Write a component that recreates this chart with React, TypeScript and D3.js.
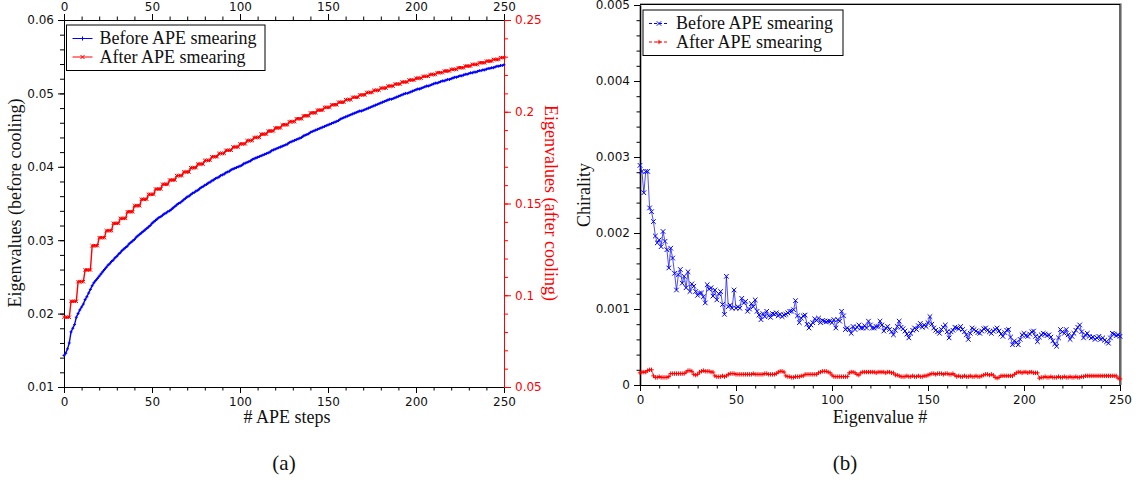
import React, { useEffect, useRef } from "react"
import * as d3 from "d3"

// x categories: APE step / eigenvalue index
const steps = d3.range(0, 251)

// (a) lowest eigenvalue vs. APE steps, before cooling (left axis)
const eigBefore = [
  0.0143, 0.0146, 0.0152, 0.016, 0.0175, 0.018, 0.0185, 0.0195, 0.02, 0.0205,
  0.0209, 0.0213, 0.0219, 0.0223, 0.0228, 0.0233, 0.0238, 0.0242, 0.0245, 0.0248,
  0.0251, 0.0254, 0.0257, 0.026, 0.0263, 0.0266, 0.0268, 0.0271, 0.0273, 0.0276,
  0.0278, 0.0281, 0.0283, 0.0286, 0.0288, 0.029, 0.0292, 0.0295, 0.0297, 0.0299,
  0.0301, 0.0304, 0.0306, 0.0308, 0.031, 0.0312, 0.0314, 0.0316, 0.0318, 0.032,
  0.0323, 0.0325, 0.0327, 0.0329, 0.0331, 0.0332, 0.0334, 0.0336, 0.0337, 0.0339,
  0.034, 0.0342, 0.0344, 0.0346, 0.0348, 0.035, 0.0351, 0.0353, 0.0355, 0.0357,
  0.0359, 0.036, 0.0362, 0.0364, 0.0365, 0.0367, 0.0368, 0.037, 0.0372, 0.0373,
  0.0375, 0.0376, 0.0378, 0.0379, 0.0381, 0.0382, 0.0384, 0.0385, 0.0386, 0.0388,
  0.0389, 0.039, 0.0392, 0.0393, 0.0394, 0.0396, 0.0397, 0.0398, 0.0399, 0.04,
  0.0401, 0.0402, 0.0404, 0.0405, 0.0406, 0.0407, 0.0408, 0.041, 0.0411, 0.0412,
  0.0413, 0.0414, 0.0415, 0.0416, 0.0417, 0.0418, 0.0419, 0.042, 0.0422, 0.0423,
  0.0424, 0.0425, 0.0426, 0.0427, 0.0428, 0.0429, 0.043, 0.0431, 0.0433, 0.0434,
  0.0435, 0.0436, 0.0437, 0.0438, 0.0439, 0.044, 0.0442, 0.0443, 0.0444, 0.0445,
  0.0447, 0.0448, 0.0449, 0.045, 0.0451, 0.0452, 0.0453, 0.0454, 0.0455, 0.0456,
  0.0457, 0.0458, 0.0459, 0.046, 0.0461, 0.0462, 0.0463, 0.0465, 0.0466, 0.0467,
  0.0468, 0.0469, 0.047, 0.0471, 0.0472, 0.0473, 0.0474, 0.0475, 0.0476, 0.0476,
  0.0477, 0.0478, 0.0479, 0.048, 0.0481, 0.0482, 0.0483, 0.0484, 0.0485, 0.0486,
  0.0487, 0.0488, 0.0489, 0.049, 0.0491, 0.0492, 0.0492, 0.0493, 0.0494, 0.0495,
  0.0496, 0.0497, 0.0498, 0.0499, 0.05, 0.05, 0.0501, 0.0502, 0.0503, 0.0504,
  0.0505, 0.0506, 0.0506, 0.0507, 0.0508, 0.0509, 0.051, 0.051, 0.0511, 0.0512,
  0.0513, 0.0514, 0.0514, 0.0515, 0.0516, 0.0517, 0.0517, 0.0518, 0.0519, 0.0519,
  0.052, 0.0521, 0.0522, 0.0522, 0.0523, 0.0524, 0.0524, 0.0525, 0.0526, 0.0526,
  0.0527, 0.0528, 0.0528, 0.0529, 0.0529, 0.053, 0.0531, 0.0531, 0.0532, 0.0532,
  0.0533, 0.0534, 0.0534, 0.0535, 0.0535, 0.0536, 0.0537, 0.0537, 0.0538, 0.0538,
  0.0539,
]

// (a) after cooling (right axis), fourfold degenerate
const eigAfter = [
  0.088, 0.088, 0.088, 0.088, 0.0967, 0.0967, 0.0967, 0.0967,
  0.1074, 0.1074, 0.1074, 0.1074, 0.1138, 0.1138, 0.1138, 0.1138,
  0.127, 0.127, 0.127, 0.127, 0.1314, 0.1314, 0.1314, 0.1314,
  0.1352, 0.1352, 0.1352, 0.1352, 0.1392, 0.1392, 0.1392, 0.1392,
  0.1419, 0.1419, 0.1419, 0.1419, 0.1455, 0.1455, 0.1455, 0.1455,
  0.1488, 0.1488, 0.1488, 0.1488, 0.1523, 0.1523, 0.1523, 0.1523,
  0.155, 0.155, 0.155, 0.155, 0.1579, 0.1579, 0.1579, 0.1579,
  0.1605, 0.1605, 0.1605, 0.1605, 0.1628, 0.1628, 0.1628, 0.1628,
  0.1652, 0.1652, 0.1652, 0.1652, 0.1672, 0.1672, 0.1672, 0.1672,
  0.1695, 0.1695, 0.1695, 0.1695, 0.1715, 0.1715, 0.1715, 0.1715,
  0.1735, 0.1735, 0.1735, 0.1735, 0.1755, 0.1755, 0.1755, 0.1755,
  0.1773, 0.1773, 0.1773, 0.1773, 0.179, 0.179, 0.179, 0.179,
  0.1808, 0.1808, 0.1808, 0.1808, 0.1825, 0.1825, 0.1825, 0.1825,
  0.1843, 0.1843, 0.1843, 0.1843, 0.186, 0.186, 0.186, 0.186,
  0.1878, 0.1878, 0.1878, 0.1878, 0.1895, 0.1895, 0.1895, 0.1895,
  0.1912, 0.1912, 0.1912, 0.1912, 0.1929, 0.1929, 0.1929, 0.1929,
  0.1946, 0.1946, 0.1946, 0.1946, 0.1962, 0.1962, 0.1962, 0.1962,
  0.1978, 0.1978, 0.1978, 0.1978, 0.1994, 0.1994, 0.1994, 0.1994,
  0.2009, 0.2009, 0.2009, 0.2009, 0.2024, 0.2024, 0.2024, 0.2024,
  0.2038, 0.2038, 0.2038, 0.2038, 0.2052, 0.2052, 0.2052, 0.2052,
  0.2066, 0.2066, 0.2066, 0.2066, 0.2079, 0.2079, 0.2079, 0.2079,
  0.2092, 0.2092, 0.2092, 0.2092, 0.2105, 0.2105, 0.2105, 0.2105,
  0.2117, 0.2117, 0.2117, 0.2117, 0.2129, 0.2129, 0.2129, 0.2129,
  0.214, 0.214, 0.214, 0.214, 0.2151, 0.2151, 0.2151, 0.2151,
  0.2162, 0.2162, 0.2162, 0.2162, 0.2173, 0.2173, 0.2173, 0.2173,
  0.2183, 0.2183, 0.2183, 0.2183, 0.2193, 0.2193, 0.2193, 0.2193,
  0.2203, 0.2203, 0.2203, 0.2203, 0.2213, 0.2213, 0.2213, 0.2213,
  0.2222, 0.2222, 0.2222, 0.2222, 0.2231, 0.2231, 0.2231, 0.2231,
  0.224, 0.224, 0.224, 0.224, 0.2249, 0.2249, 0.2249, 0.2249,
  0.2258, 0.2258, 0.2258, 0.2258, 0.2267, 0.2267, 0.2267, 0.2267,
  0.2276, 0.2276, 0.2276, 0.2276, 0.2285, 0.2285, 0.2285, 0.2285,
  0.2295, 0.2295, 0.2295,
]

// (b) chirality per eigenvalue
const chiBefore = [
  0.00289, 0.00281, 0.00253, 0.00281, 0.00281, 0.00233, 0.00228, 0.00215, 0.00196, 0.00187,
  0.00191, 0.00182, 0.00202, 0.00189, 0.00178, 0.00154, 0.0018, 0.00167, 0.00147, 0.00125,
  0.00145, 0.00152, 0.00134, 0.00143, 0.00128, 0.00149, 0.00123, 0.00133, 0.0013, 0.00123,
  0.00118, 0.00121, 0.00121, 0.00116, 0.00108, 0.00132, 0.00126, 0.00128, 0.00117, 0.00125,
  0.00112, 0.0012, 0.00123, 0.00106, 0.00093, 0.00143, 0.00103, 0.00105, 0.00101, 0.00125,
  0.00101, 0.00103, 0.00101, 0.00114, 0.00108, 0.0011, 0.00097, 0.001, 0.00107, 0.00103,
  0.00112, 0.00097, 0.00092, 0.00086, 0.00094, 0.0009, 0.00097, 0.00091, 0.00089, 0.00094,
  0.00093, 0.00095, 0.00091, 0.00093, 0.0009, 0.00092, 0.00093, 0.00095, 0.00097, 0.00097,
  0.00099, 0.00111, 0.00091, 0.00082, 0.00088, 0.00091, 0.00092, 0.0008, 0.00075, 0.00079,
  0.00082, 0.00087, 0.00085, 0.00088, 0.00082, 0.00085, 0.00084, 0.00083, 0.00084, 0.00084,
  0.00082, 0.00086, 0.00075, 0.00086, 0.00084, 0.00097, 0.00091, 0.00073, 0.00075, 0.00073,
  0.00068, 0.00077, 0.00073, 0.00076, 0.00079, 0.00075, 0.00075, 0.00078, 0.00075, 0.00084,
  0.00079, 0.00075, 0.00075, 0.00077, 0.00077, 0.00084, 0.00079, 0.00071, 0.00075, 0.00077,
  0.00073, 0.0007, 0.00066, 0.00072, 0.00077, 0.00084, 0.00076, 0.00074, 0.00071, 0.00067,
  0.00062, 0.00068, 0.00072, 0.00075, 0.00073, 0.00078, 0.00081, 0.00076, 0.00079, 0.00077,
  0.00082, 0.0009, 0.0008, 0.00075, 0.00072, 0.0007, 0.00068, 0.00073, 0.00076, 0.00079,
  0.0007, 0.00062, 0.0007, 0.00072, 0.00076, 0.00075, 0.00074, 0.00077, 0.00073, 0.0007,
  0.00066, 0.0006, 0.00068, 0.00075, 0.00073, 0.00071, 0.00069, 0.00068, 0.00071, 0.00074,
  0.00075, 0.00072, 0.0007, 0.00068, 0.00071, 0.00073, 0.00075, 0.00071, 0.00067, 0.00064,
  0.00069, 0.00072, 0.00073, 0.00063, 0.00053, 0.00058, 0.00056, 0.00053, 0.0006, 0.00066,
  0.00068, 0.00065, 0.00064, 0.00067, 0.0007, 0.00071, 0.00064, 0.00057, 0.00063, 0.00066,
  0.00068, 0.00067, 0.00065, 0.00066, 0.00063, 0.00058, 0.00054, 0.00051, 0.00062, 0.00073,
  0.0007, 0.00068, 0.00073, 0.00066, 0.0006, 0.00064, 0.00068, 0.00072, 0.00076, 0.00079,
  0.0007, 0.00062, 0.00066, 0.00068, 0.00064, 0.00062, 0.00063, 0.0006, 0.00062, 0.00064,
  0.0006, 0.00062, 0.00059, 0.00057, 0.00055, 0.00062, 0.00068, 0.00067, 0.00065, 0.00066,
  0.00064,
]

const chiAfter = [
  0.00016, 0.00017, 0.00017, 0.00017, 0.00019, 0.0002, 0.0002, 0.00012, 0.0001, 0.0001,
  0.00011, 0.0001, 0.0001, 0.0001, 0.0001, 0.00011, 0.00015, 0.00015, 0.00015, 0.00015,
  0.00015, 0.00015, 0.00015, 0.00015, 0.00017, 0.00019, 0.00019, 0.00018, 0.00014, 0.00013,
  0.00014, 0.00017, 0.00018, 0.00019, 0.00018, 0.00018, 0.00018, 0.00017, 0.00017, 0.00012,
  0.00011, 0.00011, 0.00011, 0.00012, 0.00011, 0.00012, 0.00014, 0.00015, 0.00015, 0.00015,
  0.00014, 0.00014, 0.00014, 0.00014, 0.00014, 0.00014, 0.00014, 0.00014, 0.00014, 0.00015,
  0.00014, 0.00014, 0.00014, 0.00014, 0.00014, 0.00015, 0.00015, 0.00014, 0.00014, 0.00014,
  0.00014, 0.00015, 0.00017, 0.00018, 0.00018, 0.00017, 0.00012, 0.00011, 0.00011, 0.0001,
  0.0001, 0.00011, 0.00011, 0.00011, 0.00012, 0.00012, 0.00014, 0.00014, 0.00014, 0.00014,
  0.00014, 0.00014, 0.00014, 0.00016, 0.00017, 0.00018, 0.00018, 0.00018, 0.00017, 0.00016,
  0.00013, 0.00011, 0.00011, 0.00011, 0.00011, 0.00011, 0.00011, 0.00011, 0.00011, 0.00016,
  0.00017, 0.00017, 0.00016, 0.00014, 0.00013, 0.00016, 0.00017, 0.00017, 0.00017, 0.00017,
  0.00017, 0.00017, 0.00017, 0.00016, 0.00017, 0.00017, 0.00017, 0.00017, 0.00016, 0.00017,
  0.00017, 0.00016, 0.00016, 0.00013, 0.00013, 0.00012, 0.00011, 0.00011, 0.00011, 0.00012,
  0.00011, 0.00011, 0.00012, 0.00011, 0.00011, 0.00012, 0.00011, 0.00011, 0.00012, 0.00012,
  0.00013, 0.00014, 0.00015, 0.00015, 0.00014, 0.00015, 0.00015, 0.00015, 0.00014, 0.00015,
  0.00015, 0.00014, 0.00014, 0.00015, 0.00013, 0.00011, 0.00012, 0.00011, 0.00011, 0.00012,
  0.00011, 0.00011, 0.00012, 0.00011, 0.00011, 0.00012, 0.00011, 0.00011, 0.00012, 0.00013,
  0.00014, 0.00014, 0.00013, 0.00014, 0.00013, 0.0001, 0.00009, 0.0001, 0.00012, 0.00012,
  0.00012, 0.00012, 0.00012, 0.00012, 0.00012, 0.00014, 0.00016, 0.00017, 0.00017, 0.00016,
  0.00017, 0.00017, 0.00016, 0.00017, 0.00017, 0.00016, 0.00016, 0.00016, 0.00009, 0.0001,
  0.0001, 0.00011, 0.0001, 0.0001, 0.00011, 0.0001, 0.0001, 0.0001, 0.00011, 0.0001,
  0.0001, 0.00011, 0.0001, 0.0001, 0.00011, 0.0001, 0.0001, 0.00011, 0.0001, 0.0001,
  0.00011, 0.00011, 0.00012, 0.00012, 0.00012, 0.00012, 0.00012, 0.00012, 0.00012, 0.00012,
  0.00012, 0.00012, 0.00012, 0.00012, 0.00012, 0.00012, 0.00012, 0.00012, 0.00012, 0.00009,
  0.00008,
]

const xTicks = [0, 50, 100, 150, 200, 250]
const leftTicksA = [0.01, 0.02, 0.03, 0.04, 0.05, 0.06]
const rightTicksA = [0.05, 0.1, 0.15, 0.2, 0.25]
const yTicksB = [0, 0.001, 0.002, 0.003, 0.004, 0.005]

const BLUE = "#0000ff"
const RED = "#ff0000"
const SERIF = "Liberation Serif"
const SANS = "DejaVu Sans"

const plus = (x: number, y: number, s: number) => `M${x - s},${y}H${x + s}M${x},${y - s}V${y + s}`
const cross = (x: number, y: number, s: number) =>
  `M${x - s},${y - s}L${x + s},${y + s}M${x - s},${y + s}L${x + s},${y - s}`

function axisStyle(g: any, color = "#000") {
  g.attr("color", color).attr("font-family", SANS).attr("font-size", 12)
  g.selectAll("text").attr("fill", color === "#000" ? "#111" : color)
}

function series(g: any, xs: any, ys: any, vals: number[], color: string, width: number, marker: any, ms: number) {
  const line = d3
    .line<number>()
    .x((_, i) => xs(steps[i]))
    .y(d => ys(d))
  g.append("path")
    .attr("d", line(vals))
    .attr("fill", "none")
    .attr("stroke", color)
    .attr("stroke-width", width)
  g.append("path")
    .attr("d", vals.map((v, i) => marker(xs(steps[i]), ys(v), ms)).join(""))
    .attr("fill", "none")
    .attr("stroke", color)
    .attr("stroke-width", 1)
}

function legend(g: any, x: number, y: number, w: number, h: number, items: any[]) {
  g.append("rect").attr("x", x).attr("y", y).attr("width", w).attr("height", h)
    .attr("fill", "#fff").attr("stroke", "#000").attr("stroke-width", 1)
  items.forEach((it, i) => {
    const cy = y + 13.5 + i * 18.5
    g.append("line").attr("x1", x + 6).attr("x2", x + 26).attr("y1", cy).attr("y2", cy)
      .attr("stroke", it.color).attr("stroke-width", 1).attr("stroke-dasharray", it.dash || null)
    g.append("path").attr("d", it.marker(x + 16, cy, it.ms)).attr("stroke", it.color).attr("fill", "none")
    g.append("text").attr("x", x + 33).attr("y", cy + 5.5).attr("font-family", SERIF).attr("font-size", 18)
      .attr("fill", "#111").text(it.label)
  })
}

function drawLeft(svg: any) {
  const x = d3.scaleLinear().domain([0, 250]).range([64, 504])
  const yL = d3.scaleLinear().domain([0.01, 0.06]).range([387, 20])
  const yR = d3.scaleLinear().domain([0.05, 0.25]).range([387, 20])
  const minorX = d3.range(0, 251, 10)

  const bottom = svg.append("g").attr("transform", "translate(0,387)")
  bottom.append("g").call(d3.axisBottom(x).tickValues(minorX).tickSize(3.5).tickSizeOuter(0).tickFormat(() => ""))
  bottom.append("g").call(d3.axisBottom(x).tickValues(xTicks).tickSize(6).tickSizeOuter(0).tickPadding(4)).call(axisStyle)

  const top = svg.append("g").attr("transform", "translate(0,20)")
  top.append("g").call(d3.axisTop(x).tickValues(minorX).tickSize(3.5).tickSizeOuter(0).tickFormat(() => ""))
  top.append("g").call(d3.axisTop(x).tickValues(xTicks).tickSize(6).tickSizeOuter(0).tickPadding(3)).call(axisStyle)

  const left = svg.append("g").attr("transform", "translate(64,0)")
  left.append("g").call(d3.axisLeft(yL).tickValues(d3.range(10, 61, 2).map(d => d / 1000)).tickSize(4).tickSizeOuter(0).tickFormat(() => ""))
  left.append("g").call(d3.axisLeft(yL).tickValues(leftTicksA).tickSize(6).tickSizeOuter(0).tickPadding(4).tickFormat(d3.format(".2f"))).call(axisStyle)

  const right = svg.append("g").attr("transform", "translate(504,0)")
  right.append("g").call(d3.axisRight(yR).tickValues(d3.range(5, 26, 1).map(d => d / 100)).tickSize(4).tickSizeOuter(0).tickFormat(() => "")).attr("color", RED)
  right.append("g").call(d3.axisRight(yR).tickValues(rightTicksA).tickSize(7).tickSizeOuter(0).tickPadding(4).tickFormat((d: any) => String(+(+d).toFixed(2)))).call((g: any) => axisStyle(g, RED))

  const plot = svg.append("g")
  series(plot, x, yL, eigBefore, BLUE, 1.4, plus, 1.5)
  series(plot, x, yR, eigAfter, RED, 1.4, cross, 1.7)

  svg.append("text").attr("transform", "translate(21,203) rotate(-90)").attr("text-anchor", "middle")
    .attr("font-family", SERIF).attr("font-size", 18).attr("fill", "#111").text("Eigenvalues (before cooling)")
  svg.append("text").attr("transform", "translate(545,203) rotate(90)").attr("text-anchor", "middle")
    .attr("font-family", SERIF).attr("font-size", 18).attr("fill", RED).text("Eigenvalues (after cooling)")
  svg.append("text").attr("x", 287).attr("y", 423).attr("text-anchor", "middle")
    .attr("font-family", SERIF).attr("font-size", 18).attr("fill", "#111").text("# APE steps")
  svg.append("text").attr("x", 284).attr("y", 470).attr("text-anchor", "middle")
    .attr("font-family", SERIF).attr("font-size", 21).attr("fill", "#111").text("(a)")

  legend(svg.append("g"), 66.5, 25, 198.5, 45.5, [
    { label: "Before APE smearing", color: BLUE, marker: plus, ms: 2 },
    { label: "After APE smearing", color: RED, marker: cross, ms: 2 },
  ])
}

function drawRight(svg: any) {
  const x = d3.scaleLinear().domain([0, 250]).range([640, 1120])
  const y = d3.scaleLinear().domain([0, 0.005]).range([385, 5])

  // frame with light shadow
  svg.append("path").attr("d", "M640,3.5H1121.5V385").attr("fill", "none").attr("stroke", "#aaa").attr("stroke-width", 1)
  svg.append("path").attr("d", "M640,4.5H1120V385").attr("fill", "none").attr("stroke", "#000").attr("stroke-width", 1.2)

  const bottom = svg.append("g").attr("transform", "translate(0,385)")
  bottom.append("g").call(d3.axisBottom(x).tickValues(d3.range(0, 251, 10)).tickSize(3.5).tickSizeOuter(0).tickFormat(() => ""))
  bottom.append("g").call(d3.axisBottom(x).tickValues(xTicks).tickSize(6).tickSizeOuter(0).tickPadding(4)).call(axisStyle)

  const left = svg.append("g").attr("transform", "translate(640,0)")
  left.append("g").call(d3.axisLeft(y).tickValues(d3.range(0, 26, 1).map(d => d / 5000)).tickSize(3.5).tickSizeOuter(0).tickFormat(() => ""))
  left.append("g").call(d3.axisLeft(y).tickValues(yTicksB).tickSize(6).tickSizeOuter(0).tickPadding(4)
    .tickFormat((d: any) => (d === 0 ? "0" : d3.format(".3f")(d)))).call(axisStyle)
  left.select(".domain").attr("stroke-width", 1.6)

  const plot = svg.append("g")
  series(plot, x, y, chiBefore, BLUE, 0.7, cross, 2.3)
  series(plot, x, y, chiAfter, RED, 0.7, plus, 2.2)

  svg.append("text").attr("transform", "translate(590,195) rotate(-90)").attr("text-anchor", "middle")
    .attr("font-family", SERIF).attr("font-size", 18).attr("fill", "#111").text("Chirality")
  svg.append("text").attr("x", 880).attr("y", 423).attr("text-anchor", "middle")
    .attr("font-family", SERIF).attr("font-size", 18).attr("fill", "#111").text("Eigenvalue #")
  svg.append("text").attr("x", 845).attr("y", 470).attr("text-anchor", "middle")
    .attr("font-family", SERIF).attr("font-size", 21).attr("fill", "#111").text("(b)")

  legend(svg.append("g"), 643, 10, 200, 45.5, [
    { label: "Before APE smearing", color: BLUE, marker: cross, ms: 2.2, dash: "3,2" },
    { label: "After APE smearing", color: RED, marker: plus, ms: 2.2, dash: "3,2" },
  ])
}

export default function App() {
  const ref = useRef<SVGSVGElement>(null)

  useEffect(() => {
    const svg = d3.select(ref.current)
    svg.selectAll("*").remove()
    drawLeft(svg.append("g"))
    drawRight(svg.append("g"))
  }, [])

  return (
    <svg
      ref={ref}
      width={1140}
      height={484}
      style={{ position: "absolute", left: 0, top: 0, background: "#fff" }}
    />
  )
}
